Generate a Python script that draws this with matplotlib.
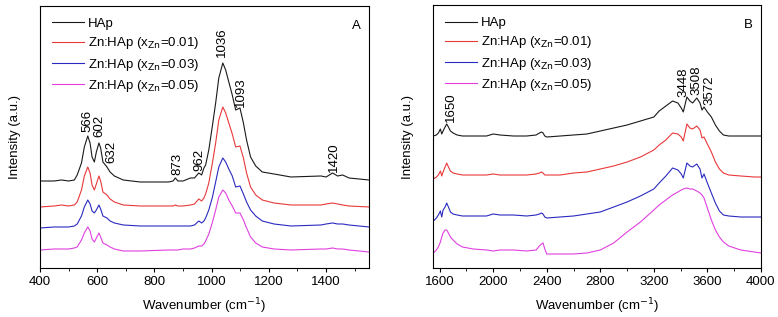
import matplotlib
matplotlib.use("Agg")
import matplotlib.pyplot as plt
from matplotlib.ticker import MultipleLocator

plt.rcParams['font.family'] = ['Liberation Sans', 'DejaVu Sans']

# ---- panel A data (wavenumber, intensity a.u., curves stacked as in the figure) ----
wn_a = [400, 450, 475, 500, 520, 530, 545, 555, 567, 575, 582, 590, 597, 606, 612, 620,
        634, 645, 660, 691, 750, 850, 865, 873, 882, 900, 926, 940, 955, 965, 973, 979,
        990, 1002, 1014, 1025, 1039, 1049, 1060, 1072, 1084, 1099, 1111, 1122, 1136, 1154,
        1177, 1218, 1277, 1382, 1400, 1423, 1440, 1458, 1480, 1550]
hap_a = [87, 87, 88, 87, 88, 93, 105, 121, 132, 125, 111, 106, 116, 125, 120, 106,
         101, 96, 92, 88, 86, 86, 87, 90, 87, 87, 90, 90, 95, 93, 100, 103,
         118, 141, 165, 190, 205, 198, 186, 173, 158, 160, 145, 128, 111, 102,
         96, 94, 91, 92, 91, 95, 92, 93, 90, 88]
zn01_a = [61, 62, 63, 62, 63, 66, 78, 92, 101, 95, 83, 78, 84, 92, 87, 76,
          73, 69, 66, 63, 62, 62, 62, 63, 62, 62, 63, 64, 69, 67, 70, 74,
          85, 104, 125, 148, 161, 155, 145, 134, 121, 122, 110, 95, 81, 73,
          68, 65, 63, 63, 64, 65, 64, 63, 62, 61]
zn03_a = [40, 41, 41, 41, 42, 44, 52, 61, 68, 64, 57, 55, 58, 63, 59, 52,
          50, 47, 45, 43, 42, 42, 42, 42, 42, 42, 42, 43, 47, 45, 47, 50,
          58, 70, 86, 101, 110, 106, 99, 92, 81, 82, 74, 66, 58, 52,
          47, 44, 42, 43, 44, 45, 44, 44, 43, 41]
zn05_a = [18, 19, 19, 19, 20, 21, 28, 35, 41, 37, 29, 26, 30, 35, 31, 25,
          23, 21, 19, 17, 17, 18, 18, 18, 18, 19, 19, 20, 22, 22, 24, 27,
          34, 45, 58, 71, 78, 75, 68, 62, 55, 55, 48, 40, 31, 25,
          21, 19, 18, 19, 19, 20, 19, 19, 18, 16]

# ---- panel B data ----
wn_b = [1553, 1575, 1590, 1605, 1615, 1625, 1640, 1652, 1665, 1680,
        1700, 1730, 1770, 1850, 1950, 2000, 2050, 2150, 2250, 2320,
        2345, 2360, 2372, 2385, 2400, 2500, 2600, 2700, 2800, 2900,
        3000, 3100, 3200, 3240, 3290, 3340, 3380, 3405, 3420, 3447,
        3470, 3490, 3521, 3545, 3560, 3575, 3600, 3630, 3660, 3690,
        3720, 3760, 3850, 3950, 4000]
hap_b = [132, 133, 135, 139, 134, 137, 141, 144, 141, 137,
         135, 133, 132, 132, 132, 134, 133, 132, 132, 133,
         135, 136, 135, 132, 131, 132, 133, 134, 137, 140,
         143, 147, 151, 157, 162, 167, 165, 160, 156, 171,
         167, 165, 170, 165, 158, 161, 156, 151, 143, 137,
         133, 132, 132, 132, 132]
zn01_b = [89, 91, 93, 97, 92, 96, 101, 105, 101, 97,
          95, 94, 93, 93, 93, 94, 93, 93, 93, 94,
          95, 96, 95, 93, 93, 93, 95, 96, 99, 102,
          106, 111, 118, 123, 128, 135, 134, 131, 127, 144,
          140, 139, 142, 138, 130, 131, 124, 116, 106, 99,
          95, 93, 92, 91, 91]
zn03_b = [47, 50, 53, 57, 51, 58, 61, 65, 61, 56,
          54, 53, 52, 52, 52, 54, 53, 53, 52, 53,
          54, 55, 54, 51, 50, 51, 52, 54, 56, 61,
          66, 72, 79, 85, 92, 100, 98, 94, 90, 105,
          102, 101, 104, 99, 90, 94, 85, 75, 65, 57,
          53, 52, 51, 51, 51]
zn05_b = [15, 18, 21, 26, 31, 35, 38, 38, 35, 31,
          28, 24, 21, 19, 18, 17, 18, 18, 17, 18,
          22, 24, 25, 19, 14, 14, 14, 15, 18, 25,
          36, 46, 58, 63, 68, 73, 76, 78, 79, 80,
          79, 79, 77, 75, 73, 70, 60, 48, 38, 31,
          26, 22, 18, 16, 15]

labels = ['HAp', r'Zn:HAp (x$_{\mathrm{Zn}}$=0.01)', r'Zn:HAp (x$_{\mathrm{Zn}}$=0.03)',
          r'Zn:HAp (x$_{\mathrm{Zn}}$=0.05)']
colors = ['#1a1a1a', '#e8393a', '#2a2ac0', '#e040e0']

# peak labels (text, wavenumber, height of text bottom)
peaks_a = [('566', 567, 136), ('602', 607, 131), ('632', 648, 105), ('873', 879, 93),
           ('962', 957, 97), ('1036', 1037, 211), ('1093', 1104, 161), ('1420', 1426, 96)]
peaks_b = [('1650', 1685, 146), ('3448', 3421, 171), ('3508', 3521, 173), ('3572', 3615, 163)]

fig = plt.figure(figsize=(7.78, 3.17), dpi=100)
axA = fig.add_axes([0.0514, 0.1546, 0.4229, 0.8265])
axB = fig.add_axes([0.5566, 0.1546, 0.4214, 0.8296])

panels = [
    (axA, wn_a, [hap_a, zn01_a, zn03_a, zn05_a], peaks_a, (400, 1550), 262, 200, 100, 'A'),
    (axB, wn_b, [hap_b, zn01_b, zn03_b, zn05_b], peaks_b, (1550, 4000), 263, 400, 200, 'B'),
]

for ax, wn, series, peaks, xlim, ytop, major, minor, tag in panels:
    for ys, lab, c in zip(series, labels, colors):
        ax.plot(wn, ys, color=c, lw=0.8, label=lab)
    for txt, x, y in peaks:
        ax.text(x, y, txt, rotation=90, ha='center', va='bottom', fontsize=9.5)
    ax.set_xlim(*xlim)
    ax.set_ylim(0, ytop)
    ax.xaxis.set_major_locator(MultipleLocator(major))
    ax.xaxis.set_minor_locator(MultipleLocator(minor))
    ax.tick_params(axis='x', which='major', length=3, labelsize=9.5, pad=3)
    ax.tick_params(axis='x', which='minor', length=2)
    ax.set_yticks([])
    ax.set_xlabel('Wavenumber (cm$^{-1}$)', fontsize=9.5, labelpad=6)
    ax.set_ylabel('Intensity (a.u.)', fontsize=9.5, labelpad=14)
    ax.text(0.975, 0.945, tag, transform=ax.transAxes, ha='right', va='top', fontsize=9.5)
    ax.legend(loc='upper left', frameon=False, fontsize=9.5, handlelength=2.4,
              handletextpad=0.35, labelspacing=0.4, borderaxespad=0.5)

fig.savefig('out.png', dpi=100)
